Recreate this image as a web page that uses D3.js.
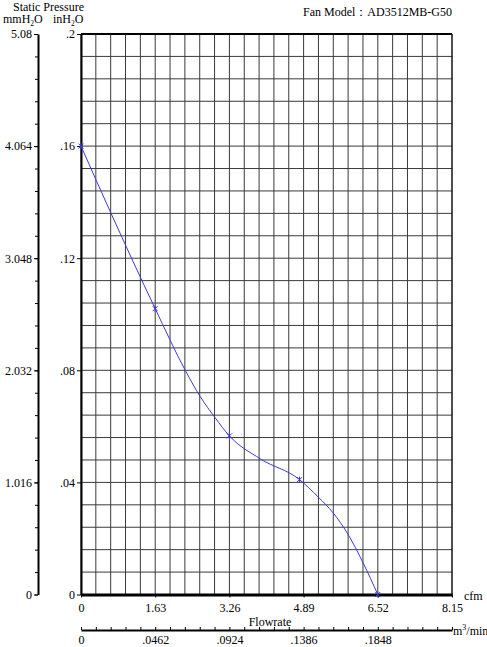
<!DOCTYPE html>
<html>
<head>
<meta charset="utf-8">
<script src="https://cdn.jsdelivr.net/npm/d3@7"></script>
<style>
  body { margin: 0; background: #fff; }
  svg text { font-family: "Liberation Serif", "DejaVu Serif", serif; font-size: 12px; fill: #000; }
  .axis path, .axis line { stroke: #000; }
</style>
</head>
<body>
<div id="chart"></div>
<script>
// fan curve (cfm, inH2O)
var flow     = [0, 0.66, 1.63, 2.29, 2.62, 2.95, 3.26, 3.94, 4.80, 5.21, 5.54, 5.85, 6.20, 6.52];
var pressure = [0.160, 0.136, 0.102, 0.080, 0.0706, 0.063, 0.0566, 0.0484, 0.041, 0.0348, 0.0291, 0.0219, 0.0112, 0];

// marked test points
var markFlow     = [0, 1.63, 3.26, 4.80, 6.52];
var markPressure = [0.160, 0.102, 0.0566, 0.041, 0];

var cfmTicks = [0, 1.63, 3.26, 4.89, 6.52, 8.15];
var cfmLabels = ["0", "1.63", "3.26", "4.89", "6.52", "8.15"];
var inTicks = [0, 0.04, 0.08, 0.12, 0.16, 0.2];
var inLabels = ["0", ".04", ".08", ".12", ".16", ".2"];
var mmTicks = [0, 1.016, 2.032, 3.048, 4.064, 5.08];
var mmLabels = ["0", "1.016", "2.032", "3.048", "4.064", "5.08"];
var m3Ticks = [0, 0.0462, 0.0924, 0.1386, 0.1848];
var m3Labels = ["0", ".0462", ".0924", ".1386", ".1848"];

var W = 487, H = 647;
var pl = 81, pr = 452, pt = 34, pb = 594.5;

var svg = d3.select("#chart").append("svg")
    .attr("width", W).attr("height", H);

var x = d3.scaleLinear().domain([0, 8.15]).range([pl, pr]);
var y = d3.scaleLinear().domain([0, 0.2]).range([pb, pt]);
var ymm = d3.scaleLinear().domain([0, 5.08]).range([pb, pt]);
var xm3 = d3.scaleLinear().domain([0, 0.231]).range([pl, pr]);

// grid, 25 x 25 cells
var gx = d3.range(0, 26).map(function(i) { return i * 0.326; });
var gy = d3.range(0, 26).map(function(i) { return i * 0.008; });

svg.append("g").selectAll("line")
    .data(gx)
  .enter().append("line")
    .attr("x1", function(d) { return x(d); })
    .attr("x2", function(d) { return x(d); })
    .attr("y1", pt).attr("y2", pb)
    .attr("stroke", "#3a3a3a").attr("stroke-width", 1);

svg.append("g").selectAll("line")
    .data(gy)
  .enter().append("line")
    .attr("y1", function(d) { return y(d); })
    .attr("y2", function(d) { return y(d); })
    .attr("x1", pl).attr("x2", pr)
    .attr("stroke", "#3a3a3a").attr("stroke-width", 1);

// frame
svg.append("line").attr("x1", pl).attr("x2", pr).attr("y1", pt).attr("y2", pt)
    .attr("stroke", "#000").attr("stroke-width", 2);
svg.append("line").attr("x1", pr).attr("x2", pr).attr("y1", pt).attr("y2", pb)
    .attr("stroke", "#000").attr("stroke-width", 1);

// inH2O axis on the plot edge
var inAxis = svg.append("g").attr("class", "axis")
    .attr("transform", "translate(" + pl + ",0)")
    .call(d3.axisLeft(y).tickValues(inTicks).tickSize(4).tickSizeOuter(0).tickPadding(2)
      .tickFormat(function(d, i) { return inLabels[i]; }));
inAxis.select(".domain").attr("stroke-width", 2);

// mmH2O axis outside
var mmX = 38;
svg.append("g").attr("class", "axis")
    .attr("transform", "translate(" + mmX + ",0)")
    .call(d3.axisLeft(ymm).tickValues(gy.map(function(d) { return d * 25.4; }))
      .tickSize(3).tickFormat(""))
  .select(".domain").remove();
var mmAxis = svg.append("g").attr("class", "axis")
    .attr("transform", "translate(" + mmX + ",0)")
    .call(d3.axisLeft(ymm).tickValues(mmTicks).tickSize(4).tickSizeOuter(0).tickPadding(2)
      .tickFormat(function(d, i) { return mmLabels[i]; }));
mmAxis.select(".domain").attr("stroke-width", 2);

// cfm axis
var cfmAxis = svg.append("g").attr("class", "axis")
    .attr("transform", "translate(0," + pb + ")")
    .call(d3.axisBottom(x).tickValues(cfmTicks).tickSize(3).tickSizeOuter(0).tickPadding(6)
      .tickFormat(function(d, i) { return cfmLabels[i]; }));
cfmAxis.select(".domain").attr("stroke", "#777").attr("stroke-width", 3);
cfmAxis.selectAll(".tick line").attr("stroke", "#777");

// m3/min axis
var m3Y = 630;
svg.append("g").attr("class", "axis")
    .attr("transform", "translate(0," + m3Y + ")")
    .call(d3.axisTop(x).tickValues(gx).tickSize(3).tickFormat(""))
  .select(".domain").remove();
var m3Axis = svg.append("g").attr("class", "axis")
    .attr("transform", "translate(0," + m3Y + ")")
    .call(d3.axisBottom(xm3).tickValues(m3Ticks).tickSize(0).tickSizeOuter(0).tickPadding(5)
      .tickFormat(function(d, i) { return m3Labels[i]; }));
m3Axis.select(".domain").attr("stroke-width", 2);

// curve
var line = d3.line()
    .x(function(d, i) { return x(flow[i]); })
    .y(function(d) { return y(d); })
    .curve(d3.curveMonotoneX);

svg.append("path")
    .datum(pressure)
    .attr("d", line)
    .attr("fill", "none")
    .attr("stroke", "#3b3bd6")
    .attr("stroke-width", 1);

// asterisk markers
var marks = svg.append("g").selectAll("g")
    .data(markPressure)
  .enter().append("g")
    .attr("transform", function(d, i) { return "translate(" + x(markFlow[i]) + "," + y(d) + ")"; });
marks.append("path")
    .attr("d", "M-2.5,-2.5L2.5,2.5M-2.5,2.5L2.5,-2.5M0,-3L0,3")
    .attr("stroke", "#3b3bd6").attr("stroke-width", 1);

// titles
svg.append("text").attr("x", 13).attr("y", 11).attr("font-size", 12.5).text("Static Pressure");
var mmt = svg.append("text").attr("x", 3).attr("y", 23).attr("font-size", 11);
mmt.append("tspan").text("mmH");
mmt.append("tspan").attr("font-size", 7.5).attr("dy", 3).text("2");
mmt.append("tspan").attr("dy", -3).text("O");
var inT = svg.append("text").attr("x", 53).attr("y", 23).attr("font-size", 11);
inT.append("tspan").text("inH");
inT.append("tspan").attr("font-size", 7.5).attr("dy", 3).text("2");
inT.append("tspan").attr("dy", -3).text("O");

svg.append("text").attr("x", 452).attr("y", 16).attr("text-anchor", "end")
    .text("Fan Model\uFF1AAD3512MB-G50");

svg.append("text").attr("x", 464).attr("y", 600).text("cfm");
svg.append("text").attr("x", 270).attr("y", 626)
    .attr("text-anchor", "middle").text("Flowrate");
var m3t = svg.append("text").attr("x", 453).attr("y", 635);
m3t.append("tspan").text("m");
m3t.append("tspan").attr("font-size", 8).attr("dy", -5).text("3");
m3t.append("tspan").attr("dy", 5).text("/min");
</script>
</body>
</html>
